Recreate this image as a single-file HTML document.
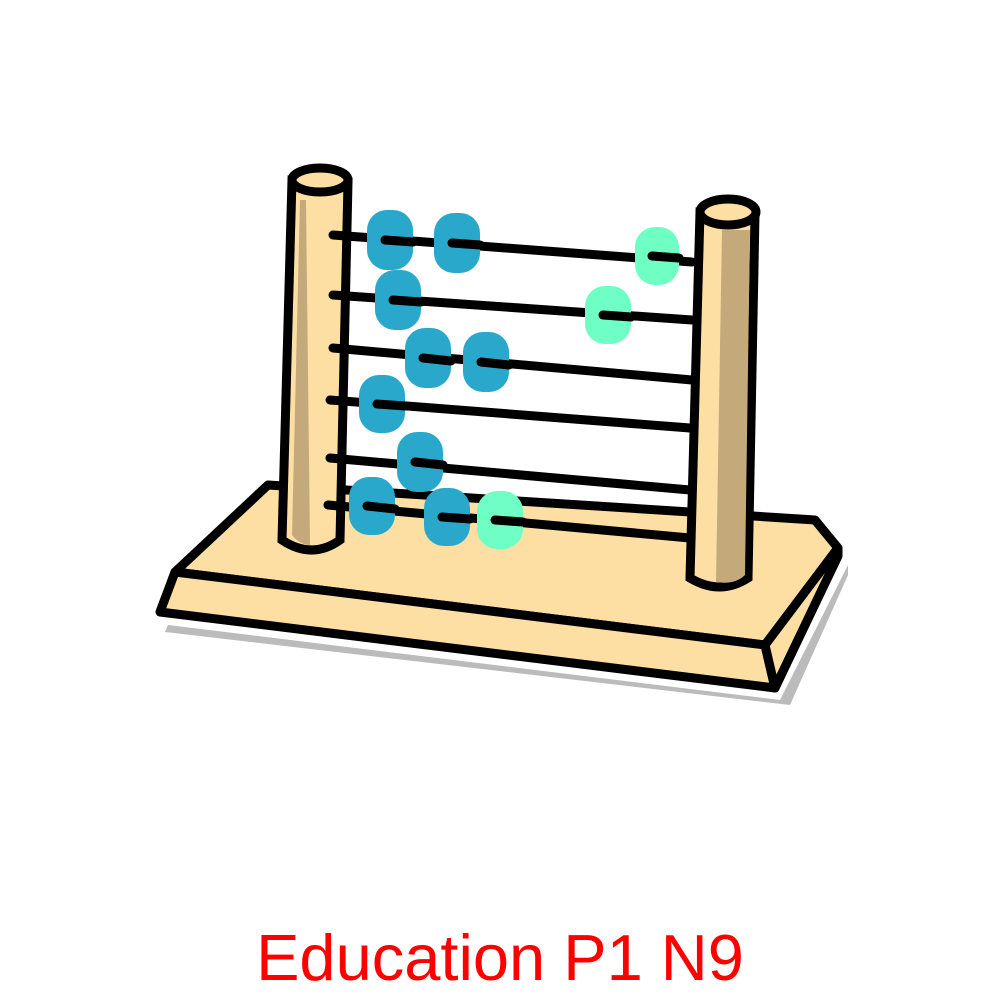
<!DOCTYPE html>
<html><head><meta charset="utf-8"><style>
html,body{margin:0;padding:0;background:#fff;width:1000px;height:1000px;overflow:hidden}
svg{display:block}
</style></head><body>
<svg width="1000" height="1000" viewBox="0 0 1000 1000">
<g stroke="#000" stroke-width="9" stroke-linejoin="round">
<polygon points="168,625 780,700 848,565 848,575 790,705 165,632" fill="#bbb" stroke="none"/>
<polygon points="175,572 268,485 815,520 838,548 765,645" fill="#FEDFA3"/>
<polygon points="175,572 160,612 775,688 765,645" fill="#FEDFA3"/>
<polygon points="765,645 775,688 838,556 838,548" fill="#FEDFA3"/>
</g>
<g stroke="#000" stroke-width="9">
<path d="M292,180 L282,540 Q312,560 340,540 L348,182 Z" fill="#FEDFA3"/>
<path d="M300,200 L292,535 Q300,545 310,545 L306,200 Z" fill="#C4AA7A" stroke="none"/>
<ellipse cx="320" cy="180" rx="28" ry="12" fill="#FEDFA3"/>
</g>
<g stroke="#000" stroke-width="9" stroke-linecap="round">
<line x1="333" y1="235" x2="692" y2="262"/>
<line x1="333" y1="295" x2="692" y2="320"/>
<line x1="333" y1="348" x2="692" y2="380"/>
<line x1="330" y1="400" x2="690" y2="428"/>
<line x1="330" y1="458" x2="690" y2="490"/>
<line x1="328" y1="505" x2="690" y2="538"/>
</g>
<g stroke="none">
<rect x="367" y="210" width="46" height="60" rx="20" fill="#29A8CC"/>
<rect x="434" y="213" width="46" height="60" rx="20" fill="#29A8CC"/>
<rect x="635" y="227" width="44" height="58" rx="20" fill="#6FFFC4"/>
<rect x="375" y="270" width="46" height="60" rx="20" fill="#29A8CC"/>
<rect x="585" y="286" width="46" height="58" rx="20" fill="#6FFFC4"/>
<rect x="405" y="328" width="46" height="60" rx="20" fill="#29A8CC"/>
<rect x="463" y="332" width="46" height="60" rx="20" fill="#29A8CC"/>
<rect x="359" y="375" width="46" height="58" rx="20" fill="#29A8CC"/>
<rect x="397" y="432" width="46" height="60" rx="20" fill="#29A8CC"/>
<rect x="349" y="477" width="46" height="58" rx="20" fill="#29A8CC"/>
<rect x="424" y="488" width="46" height="58" rx="20" fill="#29A8CC"/>
<rect x="477" y="491" width="46" height="58" rx="20" fill="#6FFFC4"/>
</g>
<g stroke="#000" stroke-width="9" stroke-linecap="round">
<line x1="385" y1="240" x2="413" y2="242"/><line x1="452" y1="243" x2="480" y2="245"/>
<line x1="652" y1="256" x2="679" y2="258"/><line x1="393" y1="300" x2="421" y2="302"/>
<line x1="603" y1="315" x2="631" y2="317"/><line x1="423" y1="358" x2="451" y2="361"/>
<line x1="481" y1="362" x2="509" y2="365"/><line x1="377" y1="404" x2="405" y2="406"/>
<line x1="415" y1="462" x2="443" y2="465"/><line x1="367" y1="506" x2="395" y2="509"/>
<line x1="442" y1="517" x2="470" y2="519"/><line x1="495" y1="520" x2="523" y2="522"/>
</g>
<g stroke="#000" stroke-width="9">
<path d="M700,212 L690,578 Q720,596 748,578 L755,214 Z" fill="#FEDFA3"/>
<path d="M722,230 L716,582 Q735,585 745,575 L750,230 Z" fill="#C4AA7A" stroke="none"/>
<ellipse cx="728" cy="212" rx="28" ry="13" fill="#FEDFA3"/>
</g>
<text x="500" y="980" text-anchor="middle" font-family="Liberation Sans, sans-serif" font-size="65" fill="#FF0000">Education P1 N9</text>
</svg>
</body></html>
